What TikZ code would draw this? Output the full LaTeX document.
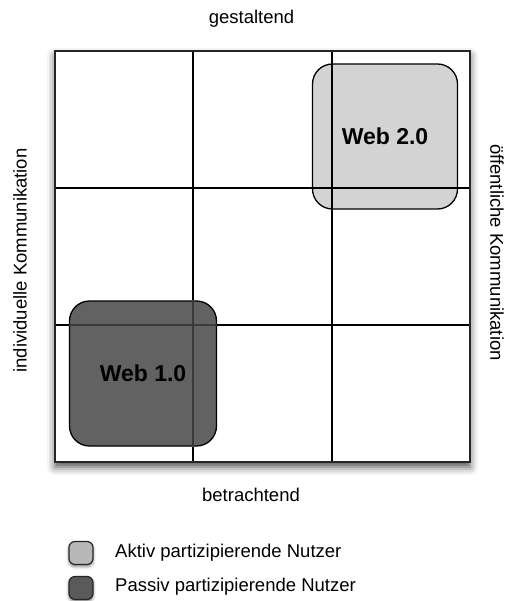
\documentclass[tikz,border=0pt]{standalone}
\usepackage{fontspec}
\setmainfont{Liberation Sans}
\usetikzlibrary{calc,shadows.blur}
\definecolor{lightbox}{HTML}{D3D3D3}
\definecolor{darkbox}{HTML}{626262}
\definecolor{darkline}{HTML}{3A3A3A}
\definecolor{lightleg}{HTML}{B8B8B8}
\definecolor{darkleg}{HTML}{5A5A5A}
\tikzset{
  lbl/.style={inner sep=0pt, font=\fontsize{18.5}{22}\selectfont},
  frame/.style={draw=black!85, line width=2.4pt, fill=white, inner sep=0pt,
    blur shadow={shadow xshift=0pt, shadow yshift=-5pt, shadow blur radius=8pt, shadow opacity=70}},
  frameline/.style={draw=black!85, line width=2.4pt, inner sep=0pt},
  gridline/.style={draw=black, line width=1.6pt},
  webbox/.style={draw=black, line width=1.3pt, rounded corners=20pt, inner sep=0pt},
  webtext/.style={font=\fontsize{23}{27}\selectfont\bfseries},
  legicon/.style={draw=black!85, line width=1.2pt, rounded corners=6pt, inner sep=0pt,
    minimum width=24pt, minimum height=23pt,
    blur shadow={shadow xshift=0pt, shadow yshift=-2pt, shadow blur radius=3pt, shadow opacity=50}},
}
\begin{document}
\begin{tikzpicture}[x=1pt,y=-1pt]
\useasboundingbox (0,0) rectangle (508,601);
\node[frame, minimum width=415pt, minimum height=411pt] (frame) at (262.5,256.5) {};
\coordinate (t1) at (193,51);
\coordinate (b1) at (193,462);
\coordinate (t2) at (332,51);
\coordinate (b2) at (332,462);
\coordinate (l1) at (55,188);
\coordinate (r1) at (470,188);
\coordinate (l2) at (55,325);
\coordinate (r2) at (470,325);
\node[webbox, fill=lightbox, minimum width=145pt, minimum height=145pt] (web2) at (385,136.5) {};
\node[webbox, fill=darkbox, minimum width=147pt, minimum height=145pt] (web1) at (143,373.5) {};
\draw[gridline] (t1) -- (b1);
\draw[gridline] (t2) -- (b2);
\draw[gridline] (l1) -- (r1);
\draw[gridline] (l2) -- (r2);
% grid seen through the dark box
\draw[gridline, draw=darkline] (web1.north -| t1) -- (web1.south -| t1);
\draw[gridline, draw=darkline] (web1.west |- l2) -- (web1.east |- l2);
\node[frameline, minimum width=415pt, minimum height=411pt] (frameborder) at (frame.center) {};
\node[webtext] (web2t) at (web2.center) {Web 2.0};
\node[webtext] (web1t) at (web1.center) {Web 1.0};
% labels
\node[lbl] (top) at (251.5,19) {gestaltend};
\node[lbl] (bottom) at (251,495) {betrachtend};
\node[lbl, rotate=90] (left) at (20,260.5) {individuelle Kommunikation};
\node[lbl, rotate=-90] (right) at (497,252.5) {öffentliche Kommunikation};
% legend
\node[legicon, fill=lightleg] (icon1) at (81,553) {};
\node[legicon, fill=darkleg] (icon2) at (81,588) {};
\node[lbl, anchor=west] (leg1) at (115,553) {Aktiv partizipierende Nutzer};
\node[lbl, anchor=west] (leg2) at (115,587) {Passiv partizipierende Nutzer};
\end{tikzpicture}
\end{document}
